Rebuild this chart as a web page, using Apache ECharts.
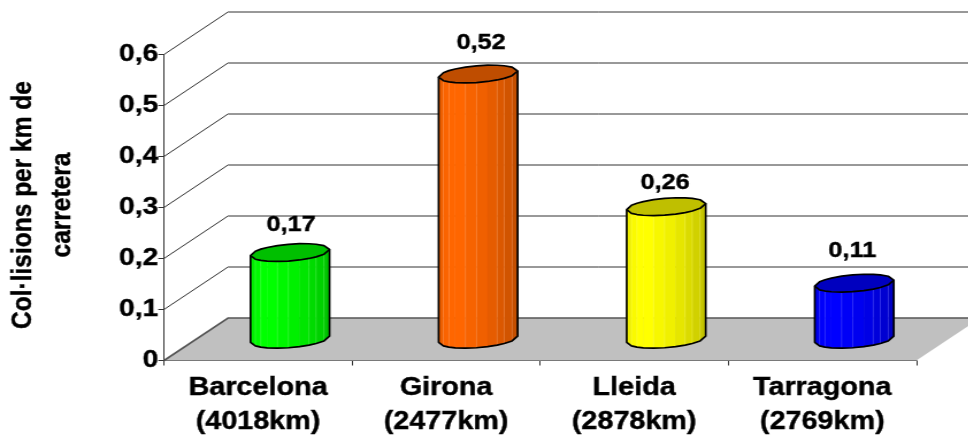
<!DOCTYPE html>
<html>
<head>
<meta charset="utf-8">
<style>
  html, body { margin: 0; padding: 0; background: #fff; overflow: hidden; }
  /* Bold Arial-style lettering is drawn wide: the whole chart is stretched horizontally. */
  #chart { position: absolute; left: 0; top: 0; height: 437px; transform-origin: 0 0; }
</style>
<script src="https://cdn.jsdelivr.net/npm/echarts@6/dist/echarts.min.js"></script>
</head>
<body>
<div id="chart"></div>
<script>
const categories = ['Barcelona\n(4018km)', 'Girona\n(2477km)', 'Lleida\n(2878km)', 'Tarragona\n(2769km)'];
const collisions = [0.17, 0.52, 0.26, 0.11];
const barColors = [[0, 255, 0], [255, 102, 0], [255, 255, 0], [0, 0, 255]];
const yTicks = [0, 0.1, 0.2, 0.3, 0.4, 0.5, 0.6];
const yTitle = 'Col·lisions per km de\ncarretera';

// Layout, in screen pixels before the horizontal stretch is taken out.
const STRETCH = 1.15;
const WIDTH = 968, HEIGHT = 437;
const GRID = { left: 164, right: 52, top: 54.5, bottom: 76.5 };
const DEPTH_X = 64 / STRETCH, DEPTH_Y = 42.5;
const BAR_WIDTH_FRACTION = 0.395;
const BAR_DEPTH_FRACTION = 0.42;
const labelNudge = [[1, -28], [3, -31], [-1, -24], [-2, -32]];

// Vertical facet seams across a cylinder's face (0 = left edge, 1 = right edge) and their shades.
const seams = [0, 0.06, 0.13, 0.21, 0.34, 0.48, 0.62, 0.74, 0.83, 0.93, 1];
const shades = [0.93, 0.98, 1, 1, 0.97, 0.94, 0.9, 0.86, 0.82, 0.77];
const TOP_SHADE = 0.75;
const TEXT_WEIGHT = { textBorderColor: '#000', textBorderWidth: 0.4 };

const chartEl = document.getElementById('chart');
chartEl.style.width = (WIDTH / STRETCH) + 'px';
chartEl.style.transform = 'scaleX(' + STRETCH + ')';
const chart = echarts.init(chartEl);

const decimalComma = v => String(v).replace('.', ',');
const rgb = (c, k) => 'rgb(' + c.map(x => Math.round(x * k)).join(',') + ')';
const lighten = (c, t) => 'rgb(' + c.map(x => Math.round(x + (255 - x) * t)).join(',') + ')';

function renderWalls(params, api) {
  const sys = params.coordSys;
  const v = api.value(0);
  const y = api.coord([0, v])[1];
  const left = sys.x, right = sys.x + sys.width;
  const children = [];
  if (v === 0) {
    children.push({
      type: 'polygon', silent: true,
      shape: { points: [[left, y], [right, y], [right + DEPTH_X, y - DEPTH_Y], [left + DEPTH_X, y - DEPTH_Y]] },
      style: { fill: '#c0c0c0' }
    });
  }
  children.push({
    type: 'polyline', silent: true,
    shape: { points: [[left, y], [left + DEPTH_X, y - DEPTH_Y], [right + DEPTH_X, y - DEPTH_Y]] },
    style: { fill: 'none', stroke: v === 0 ? '#555' : '#333', lineWidth: v === 0 ? 1.6 : 1 }
  });
  return { type: 'group', children };
}

function renderCylinder(params, api) {
  const i = params.dataIndex;
  const color = barColors[i];
  const slot = api.size([1, 0])[0];
  const A = slot * BAR_WIDTH_FRACTION / 2;
  const bx = DEPTH_X * BAR_DEPTH_FRACTION / 2;
  const by = -DEPTH_Y * BAR_DEPTH_FRACTION / 2;
  const theta0 = Math.atan2(bx, A);

  const base = api.coord([i, 0]);
  const top = api.coord([i, api.value(1)]);
  const cx = base[0] + DEPTH_X / 2;
  const yBase = base[1] - DEPTH_Y / 2;
  const yTop = top[1] - DEPTH_Y / 2;

  // Rim point for a seam position, on the near side (sign -1) or the far side (sign +1).
  const rimPoint = (f, cy, sign) => {
    const phi = Math.PI - Math.acos(1 - 2 * f);
    const t = theta0 + sign * phi;
    return [cx + A * Math.cos(t) + bx * Math.sin(t), cy + by * Math.sin(t)];
  };
  const near = (f, cy) => rimPoint(f, cy, -1);
  const far = (f, cy) => rimPoint(f, cy, 1);

  const children = [];
  for (let s = 0; s < shades.length; s++) {
    children.push({
      type: 'polygon', silent: true,
      shape: { points: [near(seams[s], yTop), near(seams[s + 1], yTop), near(seams[s + 1], yBase), near(seams[s], yBase)] },
      style: { fill: rgb(color, shades[s]), stroke: rgb(color, shades[s]), lineWidth: 0.5 }
    });
  }
  for (let s = 1; s < seams.length - 1; s++) {
    if (s === 3 || s === 6) continue;
    children.push({
      type: 'line', silent: true,
      shape: { x1: near(seams[s], yTop)[0], y1: near(seams[s], yTop)[1], x2: near(seams[s], yBase)[0], y2: near(seams[s], yBase)[1] },
      style: { stroke: lighten(color, 0.35), opacity: 0.5, lineWidth: 0.8 }
    });
  }
  const nearTop = seams.map(f => near(f, yTop));
  const farTop = seams.slice().reverse().map(f => far(f, yTop));
  const nearBase = seams.map(f => near(f, yBase));
  children.push({
    type: 'polygon', silent: true,
    shape: { points: nearTop.concat(farTop.slice(1, -1)) },
    style: { fill: rgb(color, TOP_SHADE), stroke: '#000', lineWidth: 1.7, lineJoin: 'round' }
  });
  children.push({
    type: 'polyline', silent: true,
    shape: { points: [nearTop[0]].concat(nearBase, [nearTop[nearTop.length - 1]]) },
    style: { fill: 'none', stroke: '#000', lineWidth: 1.7, lineJoin: 'round' }
  });
  children.push({
    type: 'text', silent: true,
    style: {
      text: decimalComma(api.value(1)),
      x: cx + labelNudge[i][0] / STRETCH,
      y: yTop + labelNudge[i][1],
      align: 'center', verticalAlign: 'middle',
      fill: '#000', font: 'bold 22px "Liberation Sans"',
      stroke: '#000', lineWidth: 0.4
    }
  });
  return { type: 'group', children };
}

chart.setOption({
  animation: false,
  backgroundColor: '#fff',
  grid: {
    left: GRID.left / STRETCH,
    right: GRID.right / STRETCH,
    top: GRID.top,
    bottom: GRID.bottom,
    containLabel: false,
    outerBoundsMode: 'none'
  },
  xAxis: {
    type: 'category',
    data: categories,
    boundaryGap: true,
    axisLine: { lineStyle: { color: '#333', width: 1 } },
    axisTick: { show: true, alignWithLabel: false, length: 5, lineStyle: { color: '#333' } },
    axisLabel: Object.assign({
      color: '#000', fontFamily: 'Liberation Sans', fontWeight: 'bold',
      fontSize: 25, lineHeight: 34, margin: 11, interval: 0
    }, TEXT_WEIGHT)
  },
  yAxis: {
    type: 'value',
    min: 0, max: 0.6, interval: 0.1,
    name: yTitle,
    nameLocation: 'middle',
    nameRotate: 90,
    nameGap: 72,
    nameTextStyle: Object.assign({
      color: '#000', fontFamily: 'Liberation Sans', fontWeight: 'bold',
      fontSize: 24.5, lineHeight: 33.5, padding: [0, 0, 0, 5]
    }, TEXT_WEIGHT),
    splitLine: { show: false },
    axisLine: { show: true, lineStyle: { color: '#333', width: 1 } },
    axisTick: { show: true, length: 5, lineStyle: { color: '#333' } },
    axisLabel: Object.assign({
      color: '#000', fontFamily: 'Liberation Sans', fontWeight: 'bold',
      fontSize: 24.5, margin: 5, padding: [4, 0, 0, 0], formatter: decimalComma
    }, TEXT_WEIGHT)
  },
  series: [
    {
      type: 'custom', name: 'Parets', coordinateSystem: 'cartesian2d', silent: true,
      clip: false, z: 1, renderItem: renderWalls,
      data: yTicks.map(v => [v]),
      encode: { y: 0 }
    },
    {
      type: 'custom', name: 'Col·lisions per km de carretera', coordinateSystem: 'cartesian2d',
      silent: true, clip: false, z: 2, renderItem: renderCylinder,
      data: collisions.map((v, i) => [i, v]),
      encode: { x: 0, y: 1 }
    }
  ]
});
</script>
</body>
</html>
